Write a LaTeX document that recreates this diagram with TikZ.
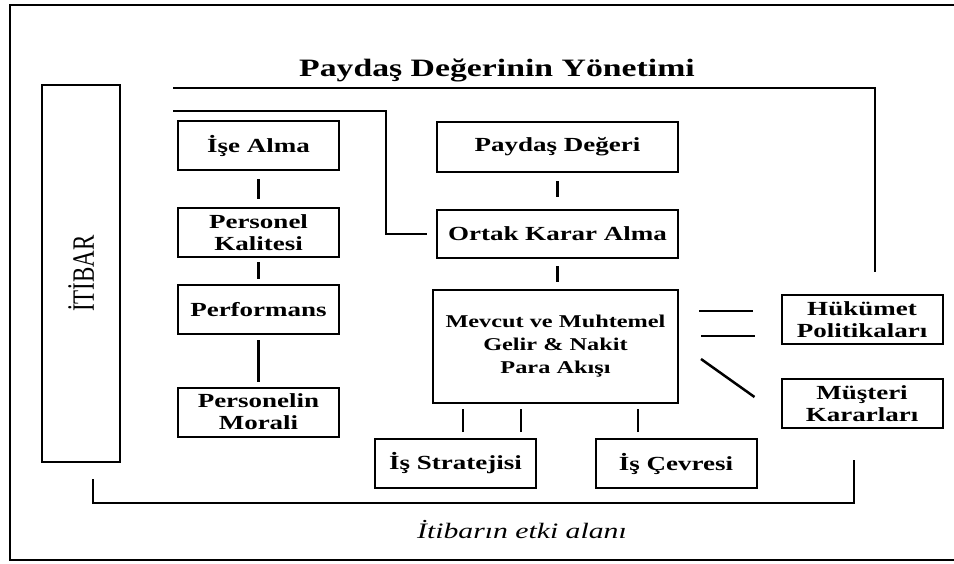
\documentclass[tikz,border=0pt]{standalone}
\usepackage{fontspec}
\usepackage{graphicx}
\setmainfont{Liberation Serif}[FakeStretch=1.35]
\newfontfamily\duzfont{Liberation Serif}
\usetikzlibrary{calc}
\tikzset{kutu/.style={draw,line width=2pt,inner sep=2pt,align=center,minimum width=161pt,minimum height=49pt,font=\fontsize{20}{22}\selectfont\bfseries}}
\tikzset{bag/.style={line width=2.5pt}}

\begin{document}
\begin{tikzpicture}[x=1pt,y=-1pt]
\useasboundingbox (0,0) rectangle (954,563);
% çerçeve
\draw[line width=2pt] (954,5) -- (10,5) -- (10,560) -- (954,560);
% kutular
\node[kutu,minimum width=78pt,minimum height=377pt] (itibar) at (81,273.5) {\rotatebox{90}{\scalebox{1}[1.35]{\duzfont\mdseries\fontsize{23}{23}\selectfont İTİBAR}}};
\node[kutu] (ise) at (258.5,145.5) {İşe Alma};
\node[kutu] (kalite) at (258.5,232.5) {Personel\\Kalitesi};
\node[kutu] (perf) at (258.5,309.5) {Performans};
\node[kutu] (moral) at (258.5,412) {Personelin\\Morali};
\node[kutu,minimum width=241pt,minimum height=50pt] (deger) at (557.5,147) {Paydaş Değeri};
\node[kutu,minimum width=241pt,minimum height=48pt] (ortak) at (557.5,234) {Ortak Karar Alma};
\node[kutu,minimum width=245pt,minimum height=113pt,font=\fontsize{18}{23}\selectfont\bfseries] (nakit) at (555.5,346.5) {Mevcut ve Muhtemel\\Gelir \& Nakit\\Para Akışı};
\node[kutu] (strateji) at (455.5,463.5) {İş Stratejisi};
\node[kutu] (cevre) at (676,463.5) {İş Çevresi};
\node[kutu] (hukumet) at (862,319.5) {Hükümet\\Politikaları};
\node[kutu] (musteri) at (862,403.5) {Müşteri\\Kararları};
% yazılar
\node[font=\fontsize{25}{25}\selectfont\bfseries] (baslik) at (497,70) {Paydaş Değerinin Yönetimi};
\node[font=\fontsize{22}{22}\selectfont\itshape] (etki) at (522,530) {İtibarın etki alanı};
% bağlantılar
\draw[bag,shorten <=8pt,shorten >=8pt] (ise.south) -- (kalite.north);
\draw[bag,shorten <=4pt,shorten >=5pt] (kalite.south) -- (perf.north);
\draw[bag,shorten <=5pt,shorten >=5pt] (perf.south) -- (moral.north);
\draw[bag,shorten <=8pt,shorten >=12pt] (deger.south) -- (ortak.north);
\draw[bag,shorten <=7pt,shorten >=7pt] (ortak.south) -- (ortak.south |- nakit.north);
\draw[bag] ($(strateji.north)+(7.5,-6)$) -- ($(strateji.north |- nakit.south)+(7.5,5)$);
\draw[bag] ($(strateji.north)+(65.5,-6)$) -- ($(strateji.north |- nakit.south)+(65.5,5)$);
\draw[bag] ($(cevre.north)+(-38,-6)$) -- ($(cevre.north |- nakit.south)+(-38,5)$);
\draw[bag] ($(nakit.east |- hukumet.west)+(20,-8.5)$) -- ($(hukumet.west)+(-28,-8.5)$);
\draw[bag] ($(nakit.east |- hukumet.west)+(22,16.5)$) -- ($(hukumet.west)+(-26,16.5)$);
\draw[bag] ($(nakit.east)+(22,12.5)$) -- ($(musteri.west)+(-26,-6.5)$);
% yönetim çizgileri
\coordinate (Y) at (173,88);
\coordinate (K) at (173,111);
\draw[line width=2pt] (Y) -| ($(hukumet.north)+(13,-22)$);
\draw[line width=2pt] (K) -| ($(ortak.west)+(-50,0)$) -- ($(ortak.west)+(-9,0)$);
% etki alanı
\draw[line width=2pt] ($(itibar.south)+(12,16)$) |- ($(musteri.south)+(-8,74)$) -- ($(musteri.south)+(-8,31)$);
\end{tikzpicture}
\end{document}
